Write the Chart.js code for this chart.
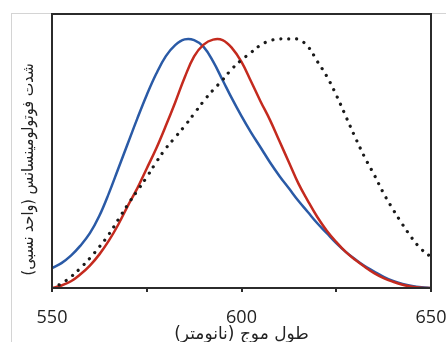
<!DOCTYPE html>
<html>
<head>
<meta charset="utf-8">
<script src="https://cdn.jsdelivr.net/npm/chart.js@4.4.1/dist/chart.umd.min.js"></script>
<style>
  html, body { margin: 0; padding: 0; background: #fff; }
  #wrap { position: relative; width: 446px; height: 342px; }
  #edge { position: absolute; left: 11px; top: 13px; right: 0; bottom: 0;
          border-top: 1px solid #d4d4d4; border-left: 1px solid #d4d4d4; }
  #grafica { position: absolute; left: 0; top: 0; }
</style>
</head>
<body>
<div id="wrap">
  <div id="edge"></div>
  <canvas id="grafica" dir="rtl" width="446" height="342"></canvas>
</div>
<script>
// طول موج (nm), cada 2.5 nm
var longitudOnda = [550, 552.5, 555, 557.5, 560, 562.5, 565, 567.5, 570, 572.5,
                    575, 577.5, 580, 582.5, 585, 587.5, 590, 592.5, 595, 597.5,
                    600, 602.5, 605, 607.5, 610, 612.5, 615, 617.5, 620, 622.5,
                    625, 627.5, 630, 632.5, 635, 637.5, 640, 642.5, 645, 647.5, 650];

// curva azul
var serieAzul = [0.08, 0.10, 0.13, 0.17, 0.22, 0.29, 0.38, 0.48, 0.58, 0.68,
                 0.775, 0.86, 0.93, 0.975, 0.998, 0.995, 0.968, 0.91, 0.835, 0.76,
                 0.69, 0.625, 0.565, 0.505, 0.45, 0.40, 0.35, 0.305, 0.26, 0.22,
                 0.18, 0.145, 0.115, 0.088, 0.066, 0.045, 0.028, 0.016, 0.008, 0.003, 0.0];

// curva roja
var serieRoja = [0.0, 0.01, 0.027, 0.055, 0.09, 0.135, 0.19, 0.255, 0.33, 0.40,
                 0.48, 0.56, 0.65, 0.745, 0.845, 0.93, 0.977, 0.997, 0.995, 0.963,
                 0.908, 0.83, 0.75, 0.675, 0.59, 0.505, 0.42, 0.35, 0.285, 0.23,
                 0.185, 0.145, 0.113, 0.085, 0.06, 0.04, 0.025, 0.013, 0.005, 0.001, 0.0];

// curva punteada
var seriePunteada = [0.0, 0.018, 0.045, 0.08, 0.12, 0.165, 0.215, 0.275, 0.335, 0.39,
                     0.445, 0.505, 0.56, 0.605, 0.65, 0.70, 0.75, 0.795, 0.835, 0.88,
                     0.915, 0.945, 0.975, 0.993, 1.0, 1.0, 0.998, 0.97, 0.91, 0.85,
                     0.775, 0.69, 0.605, 0.525, 0.455, 0.38, 0.315, 0.255, 0.20, 0.155, 0.125];

// etiquetas del eje x
var etiquetasX = [550, 600, 650];

var tituloX = 'طول موج (نانومتر)';
var tituloY = 'شدت فوتولومینسانس (واحد نسبی)';

function puntos(valores) {
    return longitudOnda.map(function (x, i) { return { x: x, y: valores[i] }; });
}

// marco alrededor del area del grafico
var marco = {
    id: 'marco',
    afterDraw: function (chart) {
        var a = chart.chartArea;
        var ctx = chart.ctx;
        ctx.save();
        ctx.strokeStyle = '#2b2b2b';
        ctx.lineWidth = 2;
        ctx.strokeRect(a.left, a.top, a.right - a.left, a.bottom - a.top);
        ctx.restore();
    }
};

var ctx = document.getElementById('grafica').getContext('2d');
var myChart = new Chart(ctx, {
    type: 'line',
    data: {
        datasets: [{
            data: puntos(seriePunteada),
            borderColor: '#1a1a1a',
            borderWidth: 3.2,
            borderDash: [0.01, 8],
            borderCapStyle: 'round',
            pointRadius: 0,
            tension: 0.4,
            fill: false
        }, {
            data: puntos(serieRoja),
            borderColor: '#c42a1e',
            borderWidth: 2.5,
            pointRadius: 0,
            tension: 0.4,
            fill: false
        }, {
            data: puntos(serieAzul),
            borderColor: '#2a5aa6',
            borderWidth: 2.5,
            pointRadius: 0,
            tension: 0.4,
            fill: false
        }]
    },
    options: {
        responsive: false,
        animation: false,
        layout: { padding: { top: 14, right: 15, left: 0, bottom: 0 } },
        plugins: { legend: { display: false }, tooltip: { enabled: false } },
        scales: {
            x: {
                type: 'linear',
                min: 550,
                max: 650,
                afterFit: function (s) { s.height = 54; s.paddingLeft = 0; s.paddingRight = 0; },
                grid: { display: true, drawOnChartArea: false, color: '#2b2b2b', lineWidth: 2, tickLength: 4 },
                border: { display: false },
                ticks: {
                    stepSize: 25,
                    maxRotation: 0,
                    padding: 15,
                    color: '#222',
                    font: { family: '"Open Sans", sans-serif', size: 18 },
                    callback: function (v) { return etiquetasX.indexOf(v) >= 0 ? v : ''; }
                },
                title: {
                    display: true,
                    text: tituloX,
                    color: '#222',
                    padding: { top: 0, bottom: -3 },
                    font: { family: '"DejaVu Sans", sans-serif', size: 17 }
                }
            },
            y: {
                type: 'linear',
                min: 0,
                max: 1.1,
                afterFit: function (s) { s.width = 52; },
                grid: { display: false },
                border: { display: false },
                ticks: { display: false },
                title: {
                    display: true,
                    text: '\u00A0\u00A0\u00A0\u00A0\u00A0\u00A0\u00A0\u00A0' + tituloY,
                    color: '#222',
                    padding: { top: 19, bottom: 0 },
                    font: { family: '"DejaVu Sans Condensed", "DejaVu Sans", sans-serif', size: 16 }
                }
            }
        }
    },
    plugins: [marco]
});
</script>
</body>
</html>
